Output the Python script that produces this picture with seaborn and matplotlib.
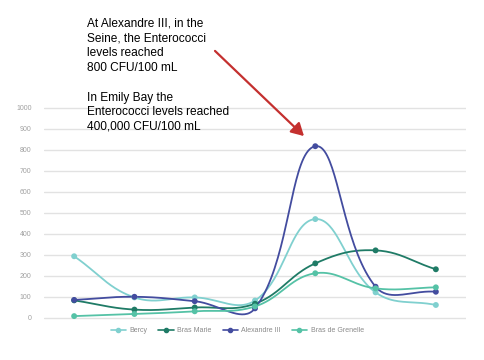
import numpy as np
import pandas as pd
import matplotlib
matplotlib.use("Agg")
import matplotlib.pyplot as plt
import seaborn as sns
from matplotlib.lines import Line2D

# ---- data ----
series_names = ["Bercy", "Bras Marie", "Alexandre III", "Bras de Grenelle"]
bercy = [294, 98, 98, 83, 471, 122, 62]
bras_marie = [84, 40, 50, 68, 260, 322, 232]
alexandre_iii = [86, 101, 80, 46, 818, 149, 125]
bras_de_grenelle = [9, 19, 32, 55, 213, 141, 146]
y_ticks = [0, 100, 200, 300, 400, 500, 600, 700, 800, 900, 1000]
colors = ["#80d0cf", "#1f7b66", "#434c9f", "#55c2a6"]

annotation = ("At Alexandre III, in the\nSeine, the Enterococci\nlevels reached\n800 CFU/100 mL\n\n"
              "In Emily Bay the\nEnterococci levels reached\n400,000 CFU/100 mL")

values = [bercy, bras_marie, alexandre_iii, bras_de_grenelle]

# pixel scale used for smooth curve tension (x: px per index, y: px per unit)
SX, SY = 60.3, 0.21


def tension_curve(x, y, t=0.4, n=40):
    """Bezier smoothing like Chart.js line tension, computed in pixel space."""
    px = np.asarray(x, float) * SX
    py = np.asarray(y, float) * SY
    m = len(px)
    cp_prev = np.zeros((m, 2))
    cp_next = np.zeros((m, 2))
    for i in range(m):
        p1 = np.array([px[i], py[i]])
        p0 = np.array([px[i - 1], py[i - 1]]) if i > 0 else p1
        p2 = np.array([px[i + 1], py[i + 1]]) if i < m - 1 else p1
        d01 = np.hypot(*(p1 - p0))
        d12 = np.hypot(*(p2 - p1))
        s01 = d01 / (d01 + d12) if d01 + d12 else 0
        s12 = d12 / (d01 + d12) if d01 + d12 else 0
        cp_prev[i] = p1 - t * s01 * (p2 - p0)
        cp_next[i] = p1 + t * s12 * (p2 - p0)
    xs, ys = [], []
    u = np.linspace(0, 1, n)
    for i in range(m - 1):
        P0 = np.array([px[i], py[i]])
        P1 = cp_next[i]
        P2 = cp_prev[i + 1]
        P3 = np.array([px[i + 1], py[i + 1]])
        B = ((1 - u) ** 3)[:, None] * P0 + (3 * (1 - u) ** 2 * u)[:, None] * P1 \
            + (3 * (1 - u) * u ** 2)[:, None] * P2 + (u ** 3)[:, None] * P3
        xs.append(B[:, 0])
        ys.append(B[:, 1])
    return np.concatenate(xs) / SX, np.concatenate(ys) / SY


sns.set_theme(style="white")
plt.rcParams["font.family"] = ["Liberation Sans", "DejaVu Sans"]

fig = plt.figure(figsize=(4.84, 3.6), dpi=100)
ax = fig.add_axes([44 / 484, 0.105, 422 / 484, 0.6038])

xidx = np.arange(len(bercy))
smooth_rows = []
point_rows = []
for name, vals in zip(series_names, values):
    xs, ys = tension_curve(xidx, vals)
    smooth_rows.append(pd.DataFrame({"x": xs, "y": ys, "site": name}))
    point_rows.append(pd.DataFrame({"x": xidx, "y": vals, "site": name}))
smooth = pd.concat(smooth_rows, ignore_index=True)
points = pd.concat(point_rows, ignore_index=True)
palette = dict(zip(series_names, colors))

for yt in y_ticks:
    ax.axhline(yt, color="#e2e2e2", lw=1.0, zorder=0)

sns.lineplot(data=smooth, x="x", y="y", hue="site", palette=palette, lw=1.3,
             ax=ax, legend=False, sort=False, estimator=None, units="site")
sns.scatterplot(data=points, x="x", y="y", hue="site", palette=palette, s=18,
                edgecolor="none", ax=ax, legend=False, zorder=5)

ax.set_xlim(-0.5, 6.5)
ax.set_ylim(-20, 1015)
ax.set_xticks([])
ax.set_yticks(y_ticks)
ax.set_yticklabels([str(t) for t in y_ticks], fontsize=5, color="#a0a0a0")
ax.tick_params(axis="y", length=0, pad=9)
ax.set_xlabel("")
ax.set_ylabel("")
for s in ax.spines.values():
    s.set_visible(False)
ax.grid(False)

handles = [Line2D([0], [0], color=c, lw=1.2, marker="o", markersize=3) for c in colors]
fig.legend(handles, series_names, loc="center", bbox_to_anchor=(0.49, 1 - 331 / 360),
           ncol=4, frameon=False, fontsize=5, labelcolor="#8a8a8a",
           handlelength=2.2, columnspacing=1.6, handletextpad=0.5)

fig.text(87 / 484, 1 - 18 / 360, annotation, ha="left", va="top", fontsize=8.6,
         color="black", linespacing=1.3)

fig.patches.append(matplotlib.patches.FancyArrowPatch(
    (213 / 484, 1 - 49 / 360), (306 / 484, 1 - 138 / 360), transform=fig.transFigure,
    arrowstyle="-|>,head_length=5,head_width=2.8", color="#c4302f", lw=1.6,
    mutation_scale=1.5))

fig.savefig("out.png", dpi=100, facecolor="white")
